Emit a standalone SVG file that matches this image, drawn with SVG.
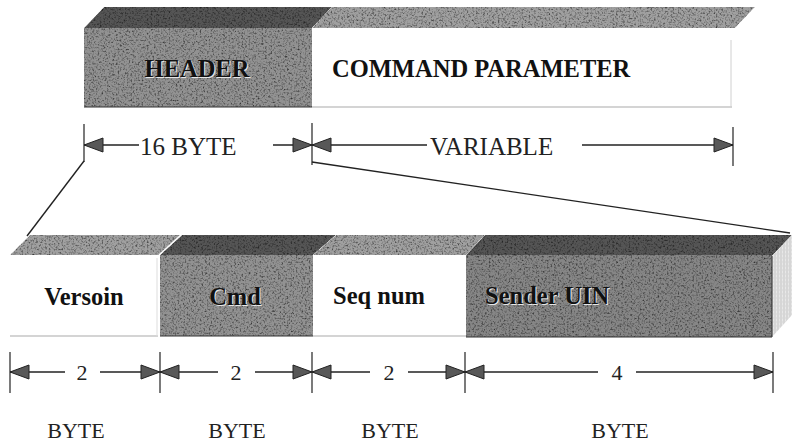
<svg xmlns="http://www.w3.org/2000/svg" width="792" height="447" viewBox="0 0 792 447">
  <defs>
    <!-- grainy print texture for the shaded faces -->
    <filter id="grain" x="0" y="0" width="100%" height="100%" color-interpolation-filters="sRGB">
      <feTurbulence type="fractalNoise" baseFrequency="0.55" numOctaves="2" seed="7" result="t"/>
      <feColorMatrix in="t" type="matrix" values="1 1 0 0 -0.05  1 1 0 0 -0.05  1 1 0 0 -0.05  0 0 0 0 1" result="g"/>
      <feBlend in="SourceGraphic" in2="g" mode="multiply" result="m"/>
      <feComposite in="m" in2="SourceGraphic" operator="in"/>
    </filter>
    <pattern id="hatch" width="3" height="4" patternUnits="userSpaceOnUse">
      <rect width="3" height="4" fill="#e8e8e8"/>
      <line x1="1" y1="0" x2="1" y2="4" stroke="#c4c4c4" stroke-width="1"/>
      <line x1="0" y1="2" x2="3" y2="2" stroke="#d6d6d6" stroke-width="1"/>
    </pattern>
    <marker id="arrow" viewBox="0 0 20 14" refX="19" refY="7" markerWidth="20" markerHeight="14" markerUnits="userSpaceOnUse" orient="auto-start-reverse" overflow="visible">
      <path d="M0,0 L19,7 L0,14 Z" fill="#585858" stroke="#222" stroke-width="1"/>
    </marker>
  </defs>
  <style>
    .dark-top { fill: #555; filter: url(#grain); }
    .light-top { fill: #a0a0a0; filter: url(#grain); }
    .dark-front { fill: #929292; filter: url(#grain); }
    .edge { stroke: #333; stroke-width: 1; fill: none; }
    .faint { stroke: #aaa; stroke-width: 1.2; fill: none; }
    .field { font-family: "Liberation Serif", "Times New Roman", serif; font-weight: bold; font-size: 24.5px; fill: #111; }
    .glow { fill: #e8e8e8; }
    .dim { font-family: "Liberation Serif", "Times New Roman", serif; font-size: 25px; fill: #222; }
    .dim-small { font-family: "Liberation Serif", "Times New Roman", serif; font-size: 22px; fill: #222; }
    .line { stroke: #222; stroke-width: 1.4; fill: none; }
    .tick { stroke: #222; stroke-width: 1.2; }
  </style>

  <rect width="792" height="447" fill="#fff"/>

  <!-- upper packet: header + command parameter -->
  <g id="header">
    <polygon class="dark-top" points="84,28 104,7 332,7 312,28"/>
    <rect class="dark-front" x="84" y="28" width="228" height="79"/>
    <line class="edge" x1="84" y1="107" x2="312" y2="107"/>
    <text class="field glow" x="198" y="78" text-anchor="middle">HEADER</text>
    <text class="field" x="197" y="77" text-anchor="middle">HEADER</text>
  </g>

  <g id="command-parameter">
    <polygon class="light-top" points="312,28 332,7 755,7 735,28"/>
    <line class="faint" x1="312" y1="107" x2="732" y2="107"/>
    <line x1="731" y1="40" x2="731" y2="107" stroke="#d0d0d0" stroke-width="1"/>
    <text class="field" x="332" y="77">COMMAND PARAMETER</text>
  </g>

  <!-- lower packet: header fields -->
  <g id="version">
    <polygon class="light-top" points="10,255 30,235 182,235 160,255"/>
    <line class="faint" x1="10" y1="336" x2="158" y2="336"/>
    <line x1="157" y1="258" x2="157" y2="336" stroke="#ddd" stroke-width="1"/>
    <text class="field" x="84" y="305" text-anchor="middle">Versoin</text>
  </g>

  <g id="cmd">
    <polygon class="dark-top" points="160,255 182,235 336,235 313,255"/>
    <line x1="159" y1="255" x2="182" y2="234" stroke="#fff" stroke-width="1.2"/>
    <rect class="dark-front" x="160" y="255" width="153" height="81"/>
    <line class="edge" x1="160" y1="336" x2="313" y2="336"/>
    <text class="field glow" x="236" y="306" text-anchor="middle">Cmd</text>
    <text class="field" x="235" y="305" text-anchor="middle">Cmd</text>
  </g>

  <g id="seq-num">
    <polygon class="light-top" points="313,255 336,235 485,235 466,255"/>
    <line class="faint" x1="313" y1="336" x2="466" y2="336"/>
    <text class="field" x="379" y="304" text-anchor="middle">Seq num</text>
  </g>

  <g id="sender-uin">
    <polygon class="dark-top" points="466,255 485,235 792,235 772,256"/>
    <rect class="dark-front" x="466" y="255" width="306" height="82" style="fill:#868686"/>
    <polygon points="772,256 792,235 792,315 772,337" fill="url(#hatch)"/>
    <line class="edge" x1="466" y1="337" x2="772" y2="337"/>
    <line class="edge" x1="772" y1="256" x2="772" y2="337"/>
    <text class="field glow" x="486" y="305">Sender UIN</text>
    <text class="field" x="485" y="304">Sender UIN</text>
  </g>

  <!-- dimension lines and leaders -->
  <g id="connectors">
    <!-- header / parameter extents -->
    <line class="tick" x1="84" y1="124" x2="84" y2="162"/>
    <line class="tick" x1="312" y1="123" x2="312" y2="165"/>
    <line class="tick" x1="733" y1="127" x2="733" y2="166"/>
    <line class="line" x1="84" y1="145" x2="139" y2="145" marker-start="url(#arrow)"/>
    <line class="line" x1="273" y1="145" x2="312" y2="145" marker-end="url(#arrow)"/>
    <line class="line" x1="312" y1="145" x2="427" y2="145" marker-start="url(#arrow)"/>
    <line class="line" x1="582" y1="145" x2="733" y2="145" marker-end="url(#arrow)"/>

    <!-- zoom leaders from header to field row -->
    <polyline class="line" points="84,161 27,236"/>
    <polyline class="line" points="312,162 790,233"/>

    <!-- field extents -->
    <line class="tick" x1="10" y1="352" x2="10" y2="393"/>
    <line class="tick" x1="160" y1="352" x2="160" y2="393"/>
    <line class="tick" x1="312" y1="352" x2="312" y2="393"/>
    <line class="tick" x1="465" y1="352" x2="465" y2="393"/>
    <line class="tick" x1="773" y1="352" x2="773" y2="393"/>

    <line class="line" x1="10" y1="372" x2="65" y2="372" marker-start="url(#arrow)"/>
    <line class="line" x1="100" y1="372" x2="160" y2="372" marker-end="url(#arrow)"/>
    <line class="line" x1="160" y1="372" x2="218" y2="372" marker-start="url(#arrow)"/>
    <line class="line" x1="255" y1="372" x2="312" y2="372" marker-end="url(#arrow)"/>
    <line class="line" x1="312" y1="372" x2="370" y2="372" marker-start="url(#arrow)"/>
    <line class="line" x1="408" y1="372" x2="465" y2="372" marker-end="url(#arrow)"/>
    <line class="line" x1="465" y1="372" x2="598" y2="372" marker-start="url(#arrow)"/>
    <line class="line" x1="636" y1="372" x2="773" y2="372" marker-end="url(#arrow)"/>
  </g>

  <!-- dimension labels -->
  <g id="dimension-labels">
    <text class="dim" x="140" y="155">16 BYTE</text>
    <text class="dim" x="430" y="155">VARIABLE</text>

    <text class="dim-small" x="82" y="380" text-anchor="middle">2</text>
    <text class="dim-small" x="236" y="380" text-anchor="middle">2</text>
    <text class="dim-small" x="389" y="380" text-anchor="middle">2</text>
    <text class="dim-small" x="617" y="380" text-anchor="middle">4</text>

    <text class="dim-small" x="76" y="438" text-anchor="middle">BYTE</text>
    <text class="dim-small" x="237" y="438" text-anchor="middle">BYTE</text>
    <text class="dim-small" x="390" y="438" text-anchor="middle">BYTE</text>
    <text class="dim-small" x="620" y="438" text-anchor="middle">BYTE</text>
  </g>
</svg>
